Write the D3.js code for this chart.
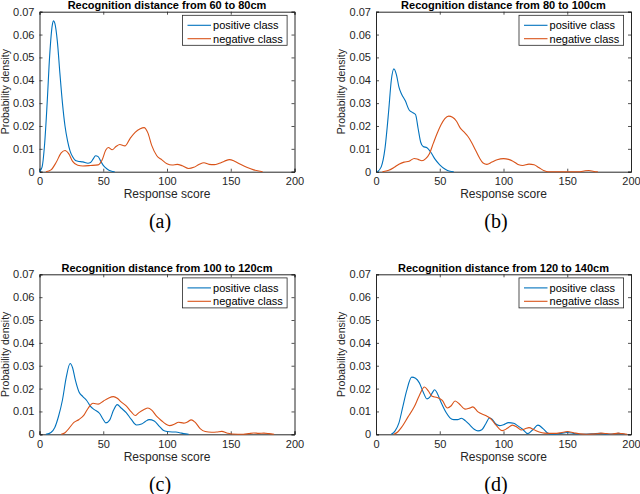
<!DOCTYPE html>
<html>
<head>
<meta charset="utf-8">
<script src="https://cdn.jsdelivr.net/npm/d3@7"></script>
<style>
  body { margin: 0; background: #fff; }
  svg { display: block; font-family: "Liberation Sans", Arial, Helvetica, sans-serif; }
</style>
</head>
<body>
<svg id="chart" width="640" height="494"></svg>
<script>
// ---- data ----
var titles = ["Recognition distance from 60 to 80cm", "Recognition distance from 80 to 100cm",
              "Recognition distance from 100 to 120cm", "Recognition distance from 120 to 140cm"];
var captions = ["(a)", "(b)", "(c)", "(d)"];
var seriesNames = ["positive class", "negative class"];
var xTicks = [0, 50, 100, 150, 200];
var yTicks = [0, 0.01, 0.02, 0.03, 0.04, 0.05, 0.06, 0.07];

var posA = [[0,0],[2,0.002],[4,0.012],[6,0.03],[8,0.051],[10,0.064],[11,0.066],[12,0.065],[14,0.057],
  [16,0.043],[18,0.03],[20,0.02],[22,0.0135],[24,0.009],[26,0.0065],[28,0.005],[30,0.0046],[34,0.0043],
  [38,0.0037],[40,0.004],[42,0.0055],[44,0.007],[46,0.0066],[48,0.0046],[50,0.0028],[53,0.0012],[56,0.0003],[59,0]];
var negA = [[5,0],[9,0.0008],[13,0.004],[17,0.0082],[20,0.0093],[23,0.0078],[26,0.0045],[30,0.0028],[34,0.0025],
  [40,0.0027],[46,0.003],[49,0.005],[52,0.0095],[54,0.0106],[57,0.0096],[60,0.011],[63,0.0119],[67,0.0113],
  [71,0.0145],[75,0.0172],[79,0.0188],[82,0.0193],[85,0.017],[88,0.0115],[92,0.007],[96,0.0052],[100,0.0035],
  [104,0.0029],[108,0.0032],[112,0.0026],[117,0.0014],[121,0.0019],[125,0.0031],[129,0.0039],[133,0.0032],
  [137,0.0031],[141,0.0037],[145,0.0046],[149,0.0053],[153,0.0046],[158,0.0031],[163,0.0018],[168,0.0008],[175,0]];

var posB = [[1,0],[4,0.002],[7,0.01],[10,0.027],[12,0.04],[14,0.045],[16,0.0425],[18,0.037],[20,0.034],[23,0.031],
  [26,0.027],[29,0.0258],[31,0.025],[33,0.019],[35,0.013],[37,0.011],[40,0.0105],[43,0.0085],[46,0.0057],
  [50,0.003],[54,0.0012],[58,0.0002],[61,0]];
var negB = [[5,0],[10,0.0006],[14,0.0018],[18,0.0033],[22,0.0042],[26,0.0046],[30,0.0058],[33,0.0054],[36,0.0048],
  [39,0.0057],[42,0.008],[45,0.0125],[48,0.0168],[51,0.0205],[54,0.0232],[57,0.0243],[60,0.0238],[63,0.0222],
  [66,0.0192],[69,0.0174],[72,0.0155],[75,0.0128],[78,0.0095],[81,0.0062],[84,0.0038],[87,0.0032],[91,0.0042],
  [95,0.0052],[100,0.0057],[104,0.0054],[108,0.0044],[112,0.003],[115,0.0027],[120,0.0033],[124,0.003],
  [128,0.0017],[132,0.0004],[135,0],[160,0],[164,0.0004],[167,0.0005],[171,0.0001],[174,0]];

var posC = [[5,0],[9,0.0008],[12,0.003],[15,0.008],[18,0.015],[21,0.025],[24,0.031],[26,0.029],[28,0.024],
  [31,0.0185],[34,0.0165],[37,0.0148],[40,0.0122],[43,0.0108],[47,0.0092],[50,0.0065],[52,0.005],[55,0.0062],
  [58,0.0105],[61,0.013],[64,0.0115],[68,0.0095],[72,0.0065],[76,0.0041],[80,0.0045],[83,0.0056],[86,0.0064],
  [90,0.0058],[94,0.0035],[97,0.0018],[100,0.0012],[104,0.001],[107,0.001],[110,0.0007],[113,0.0003],[117,0]];
var negC = [[17,0],[20,0.0007],[23,0.0025],[27,0.0052],[31,0.0065],[35,0.0085],[38,0.0113],[42,0.0136],[46,0.0132],
  [50,0.0145],[54,0.0158],[58,0.0165],[61,0.0158],[64,0.0142],[68,0.0124],[72,0.0098],[75,0.0082],[78,0.0095],
  [82,0.0108],[85,0.0115],[88,0.0106],[92,0.0078],[96,0.0058],[99,0.0045],[102,0.0038],[106,0.0045],[109,0.0053],
  [113,0.0049],[116,0.0054],[119,0.0063],[122,0.0053],[126,0.0025],[130,0.0012],[135,0.0009],[139,0.001],
  [143,0.0013],[147,0.0006],[151,0.0001],[160,0],[164,0.0003],[168,0.0006],[172,0.0004],[176,0.0005],[180,0.0003],[184,0]];

var posD = [[12,0],[15,0.0015],[18,0.005],[21,0.012],[24,0.019],[28,0.025],[31,0.0245],[34,0.0225],[37,0.0185],
  [40,0.0155],[42,0.0162],[44,0.018],[46,0.0195],[48,0.018],[51,0.014],[55,0.0095],[58,0.0072],[61,0.0064],
  [64,0.0064],[67,0.007],[70,0.006],[74,0.0038],[77,0.0022],[80,0.0015],[83,0.002],[86,0.0045],[89,0.0071],
  [91,0.0066],[94,0.0045],[97,0.0038],[100,0.0042],[104,0.0051],[108,0.0048],[111,0.0038],[115,0.0022],
  [119,0.0003],[123,0.002],[127,0.004],[131,0.0025],[135,0.0004],[139,0],[144,0.0003],[150,0.0008],
  [155,0.0004],[160,0],[170,0.0002],[176,0.0004],[180,0],[185,0.0001],[190,0.0004],[195,0]];
var negD = [[14,0],[17,0.001],[20,0.003],[25,0.0075],[30,0.012],[34,0.017],[38,0.0207],[41,0.019],[44,0.0166],
  [48,0.0161],[52,0.0148],[56,0.0115],[59,0.0125],[62,0.0146],[65,0.0135],[70,0.011],[73,0.0114],[76,0.012],
  [80,0.0098],[86,0.0082],[90,0.0068],[93,0.0048],[96,0.0028],[99,0.0016],[103,0.0026],[107,0.004],[111,0.003],
  [114,0.0019],[117,0.0024],[120,0.0029],[124,0.002],[128,0.001],[132,0.0005],[140,0.0004],[145,0.0007],
  [150,0.0012],[155,0.0007],[160,0.0002],[165,0],[172,0.0002],[177,0.0005],[181,0.0003],[185,0.0001],
  [190,0.0005],[193,0.0003],[197,0]];

var panelData = [[posA, negA], [posB, negB], [posC, negC], [posD, negD]];

// ---- layout ----
var colors = ["#0072BD", "#D95319"];
var axisColor = "#262626";
var plotW = 255, plotH = 160;
var panels = [
  {left: 39.5, top: 11.7, capX: 160, capY: 227.5},
  {left: 376,  top: 11.7, capX: 496, capY: 227.5},
  {left: 39.5, top: 274.3, capX: 160, capY: 491},
  {left: 376,  top: 274.3, capX: 496, capY: 491}
];

var svg = d3.select("#chart");

function yFmt(d) { return d === 0 ? "0" : d.toFixed(2); }

panels.forEach(function (p, k) {
  var x = d3.scaleLinear().domain([0, 200]).range([0, plotW]);
  var y = d3.scaleLinear().domain([0, 0.07]).range([plotH, 0]);
  var g = svg.append("g").attr("transform", "translate(" + p.left + "," + p.top + ")");

  // axes: ticks point inward, box on all four sides
  var bottom = g.append("g").attr("transform", "translate(0," + plotH + ")")
      .call(d3.axisBottom(x).tickValues(xTicks).tickSize(-3).tickPadding(6).tickFormat(d3.format("d")));
  var left = g.append("g")
      .call(d3.axisLeft(y).tickValues(yTicks).tickSize(-3).tickPadding(5).tickFormat(yFmt));
  var top = g.append("g")
      .call(d3.axisTop(x).tickValues(xTicks).tickSize(-3).tickFormat(""));
  var right = g.append("g").attr("transform", "translate(" + plotW + ",0)")
      .call(d3.axisRight(y).tickValues(yTicks).tickSize(-3).tickFormat(""));
  [bottom, left, top, right].forEach(function (a) {
    a.selectAll("path, line").attr("stroke", axisColor).attr("stroke-width", 0.8);
    a.select(".domain").attr("stroke-width", 1);
    a.selectAll("text").attr("fill", axisColor).attr("font-size", 11)
        .attr("font-family", "'Liberation Sans', Arial, sans-serif");
  });

  // curves
  var line = d3.line()
      .x(function (d) { return x(d[0]); })
      .y(function (d) { return y(d[1]); })
      .curve(d3.curveMonotoneX);
  panelData[k].forEach(function (s, i) {
    g.append("path").datum(s)
        .attr("fill", "none")
        .attr("stroke", colors[i])
        .attr("stroke-width", 1.1)
        .attr("d", line);
  });

  // title
  g.append("text")
      .attr("x", plotW / 2).attr("y", -2.6)
      .attr("text-anchor", "middle")
      .attr("font-size", 11).attr("font-weight", "bold")
      .attr("fill", "#000")
      .text(titles[k]);

  // axis labels
  g.append("text")
      .attr("x", plotW / 2).attr("y", plotH + 26.5)
      .attr("text-anchor", "middle")
      .attr("font-size", 12).attr("fill", axisColor)
      .text("Response score");
  g.append("text")
      .attr("transform", "translate(-31," + (plotH / 2) + ") rotate(-90)")
      .attr("text-anchor", "middle")
      .attr("font-size", 10.5).attr("fill", axisColor)
      .text("Probability density");

  // legend
  var lg = g.append("g").attr("transform", "translate(" + (plotW - 112) + ",3.6)");
  lg.append("rect")
      .attr("width", 104.6).attr("height", 30)
      .attr("fill", "#fff").attr("stroke", axisColor).attr("stroke-width", 0.8);
  seriesNames.forEach(function (name, i) {
    var ly = 10 + i * 13.4;
    lg.append("line")
        .attr("x1", 5).attr("x2", 28.5).attr("y1", ly).attr("y2", ly)
        .attr("stroke", colors[i]).attr("stroke-width", 1.1);
    lg.append("text")
        .attr("x", 30.6).attr("y", ly + 4)
        .attr("font-size", 11).attr("fill", "#000")
        .text(name);
  });

  // sub-figure caption
  svg.append("text")
      .attr("x", p.capX).attr("y", p.capY)
      .attr("text-anchor", "middle")
      .attr("font-family", "'Liberation Serif', 'DejaVu Serif', serif")
      .attr("font-size", 20).attr("fill", "#000")
      .text(captions[k]);
});
</script>
</body>
</html>
